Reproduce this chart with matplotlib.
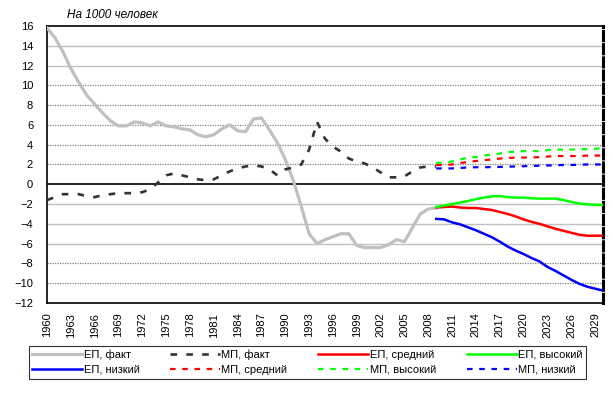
import matplotlib.pyplot as plt

plt.rcParams['font.family'] = ['Liberation Sans', 'DejaVu Sans']

# Годы
years_fact = list(range(1960, 2010))
years_fc = list(range(2009, 2031))

# ЕП, факт (естественный прирост)
ep_fact = [15.8, 14.8, 13.4, 11.7, 10.3, 9.0, 8.1, 7.2, 6.4, 5.9,
           5.9, 6.3, 6.2, 5.9, 6.3, 5.9, 5.8, 5.6, 5.5, 5.0,
           4.8, 5.0, 5.6, 6.0, 5.4, 5.3, 6.6, 6.7, 5.5, 4.2,
           2.5, 0.4, -2.2, -5.0, -6.0, -5.6, -5.3, -5.0, -5.0, -6.2,
           -6.4, -6.4, -6.4, -6.1, -5.6, -5.8, -4.4, -3.0, -2.5, -2.4]

# МП, факт (миграционный прирост)
mp_fact = [-1.6, -1.3, -1.0, -1.0, -1.0, -1.2, -1.3, -1.1, -1.0, -0.9,
           -0.9, -0.9, -0.8, -0.5, 0.2, 0.9, 1.1, 0.9, 0.7, 0.5,
           0.4, 0.5, 0.9, 1.3, 1.6, 1.8, 1.9, 1.8, 1.5, 0.9,
           1.5, 1.7, 2.0, 3.5, 6.3, 4.6, 3.8, 3.3, 2.6, 2.3,
           2.1, 1.7, 1.2, 0.7, 0.7, 0.8, 1.3, 1.7, 1.8, 1.8]

# Прогнозы 2009-2030
ep_mid = [-2.35, -2.3, -2.25, -2.35, -2.4, -2.4, -2.5, -2.6, -2.8, -3.0, -3.25,
          -3.55, -3.8, -4.0, -4.25, -4.5, -4.7, -4.9, -5.1, -5.2, -5.2, -5.2]
ep_high = [-2.3, -2.15, -2.0, -1.85, -1.7, -1.5, -1.35, -1.22, -1.2, -1.3, -1.35,
           -1.35, -1.42, -1.45, -1.45, -1.45, -1.6, -1.78, -1.95, -2.03, -2.07, -2.1]
ep_low = [-3.5, -3.55, -3.85, -4.05, -4.35, -4.65, -5.0, -5.35, -5.8, -6.3, -6.7,
          -7.05, -7.45, -7.8, -8.35, -8.75, -9.2, -9.65, -10.05, -10.35, -10.55, -10.75]
mp_mid = [1.95, 1.95, 2.0, 2.15, 2.25, 2.35, 2.45, 2.5, 2.6, 2.65, 2.7,
          2.7, 2.7, 2.75, 2.8, 2.85, 2.85, 2.85, 2.85, 2.9, 2.9, 2.9]
mp_high = [2.15, 2.2, 2.3, 2.5, 2.7, 2.75, 2.9, 3.0, 3.1, 3.25, 3.3,
           3.35, 3.35, 3.35, 3.45, 3.5, 3.5, 3.5, 3.55, 3.55, 3.6, 3.6]
mp_low = [1.6, 1.6, 1.6, 1.65, 1.7, 1.72, 1.72, 1.74, 1.75, 1.78, 1.8,
          1.82, 1.85, 1.88, 1.9, 1.92, 1.95, 1.95, 1.98, 2.0, 2.0, 2.0]

yticks = list(range(-12, 17, 2))
xticks = list(range(1960, 2030, 3))

fig = plt.figure(figsize=(6.13, 3.93), dpi=100)
ax = fig.add_axes([0.0767, 0.229, 0.907, 0.705])

# Сетка
for v in yticks:
    if v in (14, 12, -2, -4, -6):
        ax.axhline(v, color='#c0c0c0', lw=1.0, zorder=1)
    elif v in (10, 8, 6, 4, 2, -8, -10):
        ax.axhline(v, color='#808080', lw=0.9, ls=(0, (1, 1)), zorder=1)
ax.axhline(0, color='black', lw=1.2, zorder=1)

l1, = ax.plot(years_fact, ep_fact, color='#c0c0c0', lw=2.3, label='ЕП, факт', zorder=3)
l2, = ax.plot(years_fact, mp_fact, color='#333333', lw=1.9, ls=(0, (2.5, 3.5)),
              label='МП, факт', zorder=4)
l3, = ax.plot(years_fc, ep_mid, color='#ff0000', lw=1.8, label='ЕП, средний', zorder=3)
l4, = ax.plot(years_fc, ep_high, color='#00ff00', lw=1.8, label='ЕП, высокий', zorder=3)
l5, = ax.plot(years_fc, ep_low, color='#0000ff', lw=1.8, label='ЕП, низкий', zorder=3)
l6, = ax.plot(years_fc, mp_mid, color='#ff0000', lw=1.6, ls=(0, (2.5, 3)),
              label='МП, средний', zorder=3)
l7, = ax.plot(years_fc, mp_high, color='#00ff00', lw=1.6, ls=(0, (2.5, 3)),
              label='МП, высокий', zorder=3)
l8, = ax.plot(years_fc, mp_low, color='#0000ff', lw=1.6, ls=(0, (2.5, 3)),
              label='МП, низкий', zorder=3)

ax.set_xlim(1960, 2030)
ax.set_ylim(-12, 16)
ax.set_yticks(yticks)
ax.set_xticks(xticks)
ax.set_xticklabels([str(x) for x in xticks], rotation=90, fontsize=8)
ax.tick_params(axis='y', length=0, labelsize=8, pad=10)
ax.tick_params(axis='x', length=0, pad=7)

ax.spines['top'].set_linewidth(1.2)
ax.spines['bottom'].set_linewidth(1.2)
ax.spines['left'].set_linestyle((0, (1, 1)))
ax.spines['left'].set_linewidth(1.2)
ax.spines['right'].set_linestyle((0, (3, 1.3)))
ax.spines['right'].set_linewidth(2.2)

fig.text(0.109, 0.953, 'На 1000 человек', fontsize=8.5, style='italic')

handles = [l1, l5, l2, l6, l3, l7, l4, l8]
leg = fig.legend(handles=handles, labels=[h.get_label() for h in handles],
                 ncol=4, loc='lower left', bbox_to_anchor=(0.0375, 0.022, 0.928, 0.082),
                 mode='expand', fontsize=8, handlelength=4.5, handletextpad=0.1,
                 borderpad=0.35, labelspacing=0.45, columnspacing=1.0,
                 frameon=True, fancybox=False, edgecolor='black')
leg.get_frame().set_linewidth(0.8)

fig.savefig('out.png', dpi=100)
